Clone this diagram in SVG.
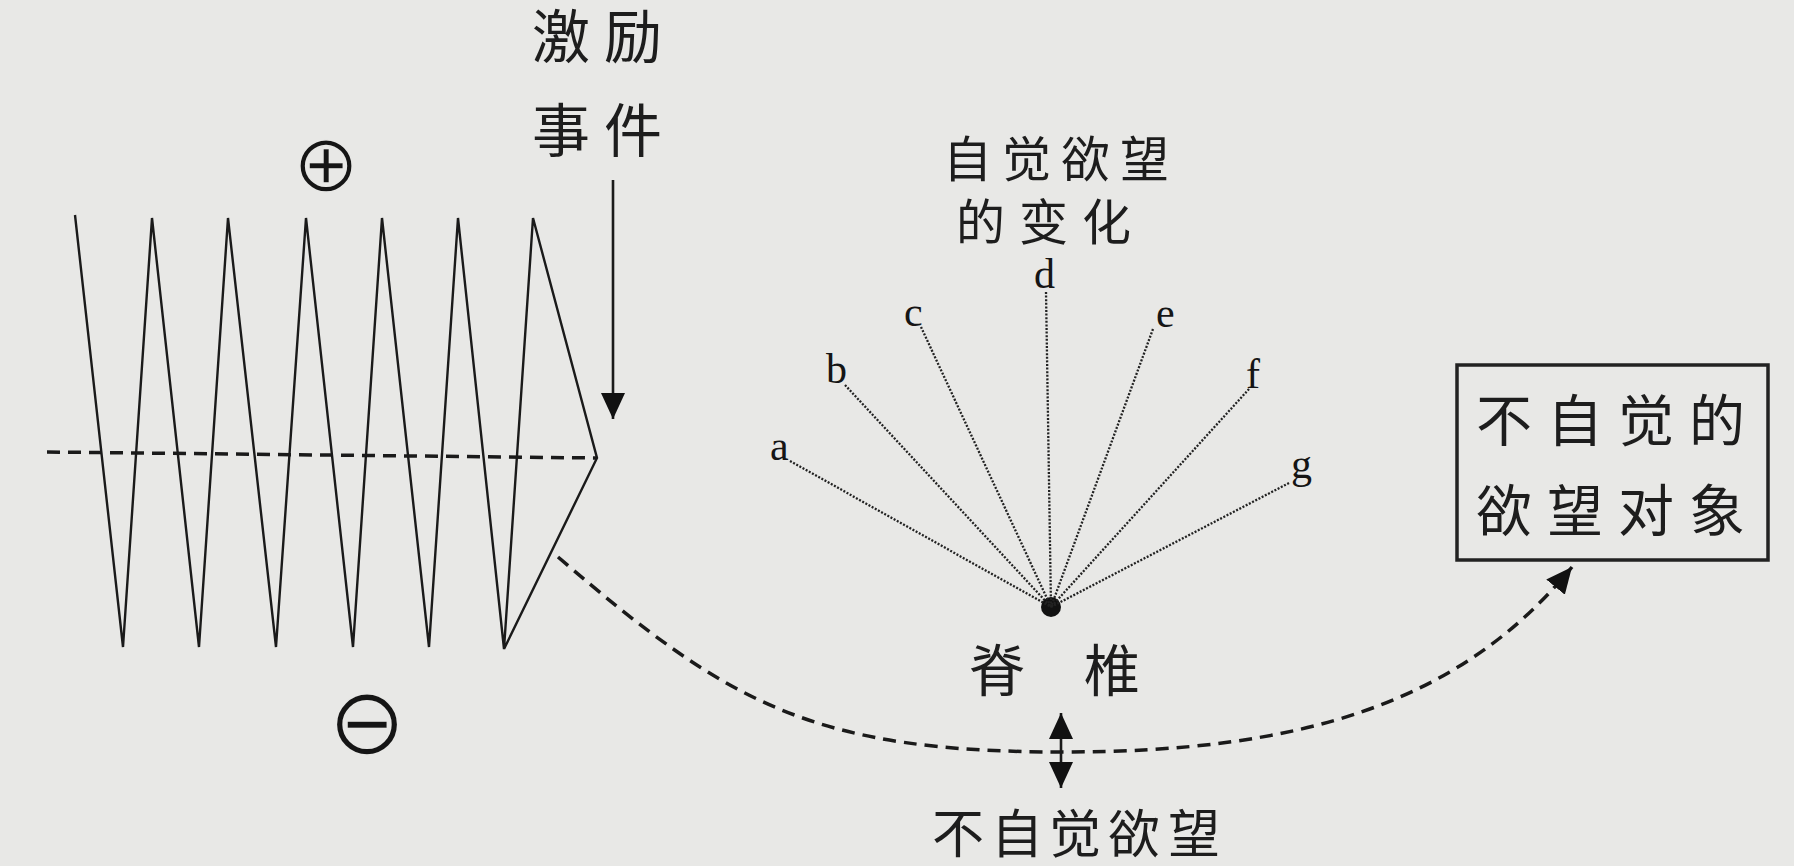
<svg xmlns="http://www.w3.org/2000/svg" width="1794" height="866" viewBox="0 0 1794 866">
  <defs>
    <style>
      .cjk { font-family: "Noto Sans CJK SC", "Noto Sans CJK TC", sans-serif; fill: #1d1d1d; }
      .lat { font-family: "Liberation Serif", serif; font-size: 42px; fill: #151515; }
      .sym { font-family: "DejaVu Sans", sans-serif; fill: #151515; stroke: #e8e8e6; stroke-width: 1.6; text-anchor: middle; dominant-baseline: central; }
      .zig { fill: none; stroke: #1a1a1a; stroke-width: 2.4; stroke-linejoin: miter; }
      .dash { fill: none; stroke: #1a1a1a; stroke-width: 3.5; stroke-dasharray: 13 8; }
      .dot { fill: none; stroke: #222; stroke-width: 2.3; stroke-dasharray: 2 1.6; }
      .solid { fill: none; stroke: #1a1a1a; stroke-width: 2.6; }
      .box { fill: none; stroke: #222; stroke-width: 3.5; }
    </style>
    <marker id="head" viewBox="0 0 26 24" refX="26" refY="12" markerWidth="26" markerHeight="24" markerUnits="userSpaceOnUse" orient="auto-start-reverse">
      <path d="M0 0 L26 12 L0 24 Z" fill="#111"/>
    </marker>
  </defs>
  <rect width="1794" height="866" fill="#e8e8e6"/>

  <g id="zigzag">
    <path class="zig" d="M75 215 L123 647 L152 218 L199 647 L228 218 L276 647 L306 218 L353 647 L382 218 L429 647 L458 218 L504 649 L533 218 L597 458 L504 649"/>
  </g>

  <g id="stimulus">
    <text class="cjk" font-size="58" x="532 604" y="58">激励</text>
    <text class="cjk" font-size="58" x="532 604" y="152">事件</text>
  </g>

  <g id="plus"><text class="sym" font-size="80" x="326" y="163">⊕</text></g>
  <g id="minus"><text class="sym" font-size="94" x="367" y="721">⊖</text></g>

  <g id="conscious-title">
    <text class="cjk" font-size="49" x="943 1002 1061 1120" y="177">自觉欲望</text>
    <text class="cjk" font-size="49" x="956 1019 1082" y="240">的变化</text>
  </g>

  <g id="labels">
    <text class="lat" x="770" y="460">a</text>
    <text class="lat" x="826" y="383">b</text>
    <text class="lat" x="904" y="326">c</text>
    <text class="lat" x="1034" y="288">d</text>
    <text class="lat" x="1156" y="327">e</text>
    <text class="lat" x="1246" y="388">f</text>
    <text class="lat" x="1291" y="478">g</text>
  </g>

  <g id="spine">
    <circle cx="1051" cy="607" r="10" fill="#111"/>
    <text class="cjk" font-size="56" x="969 1084" y="691">脊椎</text>
  </g>

  <g id="unconscious">
    <text class="cjk" font-size="52" x="932 991 1049 1108 1168" y="853">不自觉欲望</text>
  </g>

  <g id="object">
    <rect class="box" x="1457" y="365" width="311" height="195"/>
    <text class="cjk" font-size="56" x="1476 1547 1618 1689" y="441">不自觉的</text>
    <text class="cjk" font-size="56" x="1476 1547 1618 1689" y="531">欲望对象</text>
  </g>

  <g id="connectors">
    <path class="dash" stroke-width="3" stroke-dasharray="12 7" d="M47 452 L597 458"/>
    <path class="solid" d="M613 180 L613 419" marker-end="url(#head)"/>
    <path class="dot" d="M790 461 L1051 607"/>
    <path class="dot" d="M845 385 L1051 607"/>
    <path class="dot" d="M921 327 L1051 607"/>
    <path class="dot" d="M1046 292 L1051 607"/>
    <path class="dot" d="M1153 329 L1051 607"/>
    <path class="dot" d="M1249 389 L1051 607"/>
    <path class="dot" d="M1289 483 L1051 607"/>
    <path class="dash" d="M558 557 C730 705 814 752 1064 752 C1300 752 1460 704 1572 567" marker-end="url(#head)"/>
    <path class="solid" d="M1061 713 L1061 788" marker-start="url(#head)" marker-end="url(#head)"/>
  </g>
</svg>
